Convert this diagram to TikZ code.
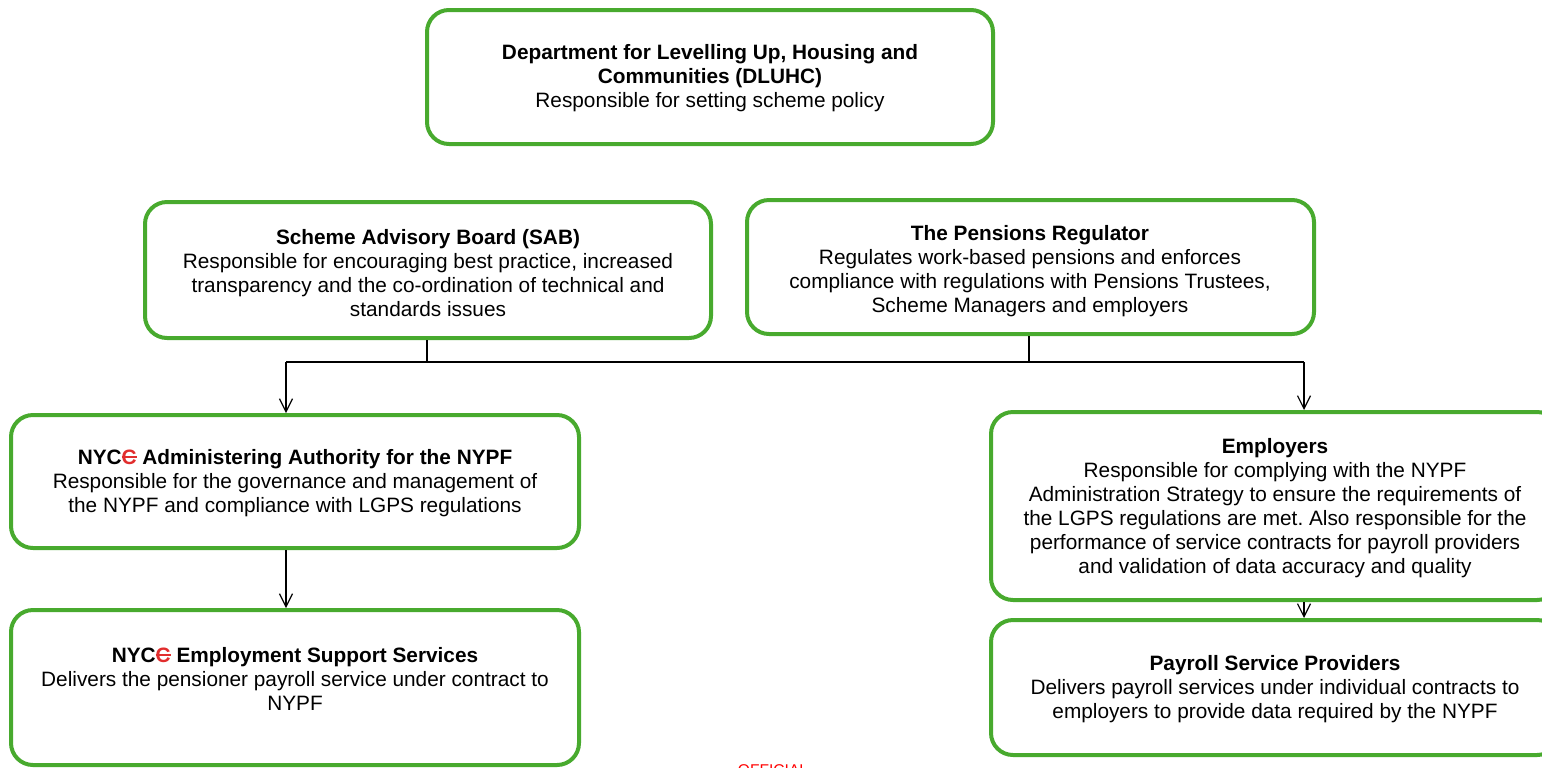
\documentclass[tikz,border=0pt]{standalone}
\usepackage{fontspec}
\setmainfont{Liberation Sans}
\usetikzlibrary{arrows.meta}
\definecolor{boxgreen}{RGB}{72,170,46}
\definecolor{delred}{RGB}{225,45,45}
\definecolor{offred}{RGB}{255,0,0}
\frenchspacing
\newcommand{\delC}{{\color{delred}\setbox0=\hbox{C}\rlap{\rule[0.33em]{\wd0}{0.075em}}\box0}}
\tikzset{
  box/.style={draw=boxgreen, line width=2pt, rounded corners=11pt, minimum width=283pt, inner sep=0pt},
  txt/.style={align=center, font=\fontsize{10.4pt}{12pt}\selectfont, inner sep=0pt},
  link/.style={draw=black, line width=0.6pt},
  arr/.style={link, -{Straight Barb[length=6.5pt,width=6.5pt,line width=0.6pt]}},
}
\begin{document}
\begin{tikzpicture}[x=0.5pt,y=-0.5pt]
\useasboundingbox (0,0) rectangle (1542,767);
% boxes
\node[box, minimum height=67pt] (dl) at (710,77) {};
\node[box, minimum height=68pt] (sab) at (428,270) {};
\node[box, minimum width=283.5pt, minimum height=67pt] (tpr) at (1030.5,267) {};
\node[box, minimum width=284pt, minimum height=66.5pt] (aa) at (295,481.5) {};
\node[box, minimum width=284pt, minimum height=77.5pt] (ess) at (295,687.5) {};
\node[box, minimum width=284pt, minimum height=94pt] (emp) at (1275,506) {};
\node[box, minimum width=284pt, minimum height=67.5pt] (pay) at (1275,687.5) {};
% texts
\node[txt] (tdl) at (710,78.5) {\textbf{Department for Levelling Up, Housing and}\\\textbf{Communities (DLUHC)}\\Responsible for setting scheme policy};
\node[txt] (tsab) at (428,273.5) {\textbf{Scheme Advisory Board (SAB)}\\Responsible for encouraging best practice, increased\\transparency and the co-ordination of technical and\\standards issues};
\node[txt] (ttpr) at (1030,271.5) {\textbf{The Pensions Regulator}\\Regulates work-based pensions and enforces\\compliance with regulations with Pensions Trustees,\\Scheme Managers and employers};
\node[txt] (taa) at (295,483.5) {\textbf{NYC\delC{} Administering Authority for the NYPF}\\Responsible for the governance and management of\\the NYPF and compliance with LGPS regulations};
\node[txt] (tess) at (295,679) {\textbf{NYC\delC{} Employment Support Services}\\Delivers the pensioner payroll service under contract to\\NYPF};
\node[txt] (temp) at (1275,508) {\textbf{Employers}\\Responsible for complying with the NYPF\\Administration Strategy to ensure the requirements of\\the LGPS regulations are met. Also responsible for the\\performance of service contracts for payroll providers\\and validation of data accuracy and quality};
\node[txt] (tpay) at (1275,689) {\textbf{Payroll Service Providers}\\Delivers payroll services under individual contracts to\\employers to provide data required by the NYPF};
\node[anchor=base, inner sep=0pt, text=offred, font=\fontsize{7.8pt}{9pt}\selectfont] (off) at (773,775) {OFFICIAL};
% connectors
\coordinate (busL) at (286,362);
\coordinate (busR) at (1304,362);
\draw[link] (sab.south -| 427,0) -- (427,362);
\draw[link] (tpr.south -| 1029,0) -- (1029,362);
\draw[link] (busL) -- (busR);
\draw[arr] (busL) -- (busL |- aa.north);
\draw[arr] (busR) -- (busR |- emp.north);
\draw[arr] (busL |- aa.south) -- (busL |- ess.north);
\draw[arr] (busR |- emp.south) -- (busR |- pay.north);
\end{tikzpicture}
\end{document}
